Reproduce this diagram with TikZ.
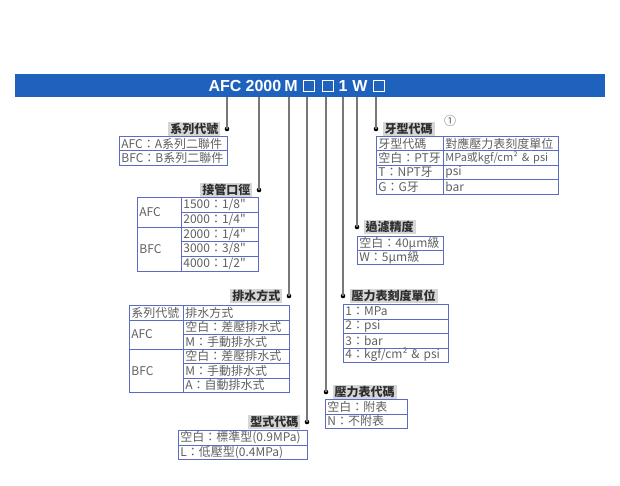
\documentclass[tikz,border=0pt]{standalone}
\usepackage{fontspec}
\setmainfont{Liberation Sans}
\newfontfamily\cjk{Noto Sans CJK TC}
\usetikzlibrary{positioning}
\definecolor{barblue}{RGB}{30,98,190}
\definecolor{tblue}{RGB}{90,108,196}
\definecolor{txtgray}{RGB}{95,95,95}
\definecolor{headgray}{RGB}{214,214,214}
\definecolor{headtext}{RGB}{45,45,45}
\definecolor{leadgray}{RGB}{120,120,120}
\tikzset{
  cell/.style={draw=tblue, line width=0.8pt, anchor=north west, text width=#1, align=left,
    minimum height=14.5pt, inner xsep=2pt, inner ysep=0pt, text=txtgray,
    font=\cjk\fontsize{12}{12}\selectfont},
  heading/.style={fill=headgray, text=headtext, inner xsep=2pt, inner ysep=1pt,
    minimum height=13pt, font=\cjk\bfseries\fontsize{12}{13}\selectfont},
  bullet/.style={circle, fill=black, inner sep=0pt, minimum size=4.6pt},
  leadline/.style={draw=leadgray, line width=1.1pt},
  ttl/.style={text=white, inner sep=0pt, font=\bfseries\fontsize{16}{18}\selectfont},
  ttlbox/.style={draw=white, line width=0.8pt, minimum size=11pt, inner sep=0pt}
}
\begin{document}
\begin{tikzpicture}[x=1pt,y=-1pt]
\useasboundingbox (0,0) rectangle (620,486);
% title bar
\node[fill=barblue, minimum width=590pt, minimum height=23pt, inner sep=0pt, anchor=north west] (bar) at (15,74) {};
\node[ttl] (tAFC) at (225,86) {AFC};
\node[ttl] (tsize) at (263.5,86) {2000};
\node[ttl] (tdrain) at (291,86) {M};
\node[ttlbox] (tbox1) at (309,86) {};
\node[ttlbox] (tbox2) at (327.5,86) {};
\node[ttl] (tunit) at (343,86) {1};
\node[ttl] (tfilt) at (360,86) {W};
\node[ttlbox] (tbox3) at (379,86) {};
% bullets and leads
\node[bullet] (dSeries) at (227,129) {};
\node[bullet] (dPort) at (259,190) {};
\node[bullet] (dDrain) at (289,296) {};
\node[bullet] (dType) at (307,422) {};
\node[bullet] (dGauge) at (326,392) {};
\node[bullet] (dUnit) at (343,296) {};
\node[bullet] (dFilter) at (357,227) {};
\node[bullet] (dThread) at (376,129) {};
\foreach \d in {dSeries,dPort,dDrain,dType,dGauge,dUnit,dFilter,dThread}
  \draw[leadline] (bar.south -| \d) -- (\d.center);
\node[heading, left=4pt of dSeries] (hSeries) {系列代號};
\node[heading, left=4pt of dPort] (hPort) {接管口徑};
\node[heading, left=4pt of dDrain] (hDrain) {排水方式};
\node[heading, left=4pt of dType] (hType) {型式代碼};
\node[heading, right=4pt of dGauge] (hGauge) {壓力表代碼};
\node[heading, right=4pt of dUnit] (hUnit) {壓力表刻度單位};
\node[heading, right=4pt of dFilter] (hFilter) {過濾精度};
\node[heading, right=4pt of dThread] (hThread) {牙型代碼};
\node[text=txtgray, font=\cjk\fontsize{12}{12}\selectfont] (note) at (450,121) {①};
% series
\node[cell=104pt] (s1) at (119,136) {AFC：A系列二聯件};
\node[cell=104pt] (s2) at (119,150.5) {BFC：B系列二聯件};
% port size
\node[cell=40pt, minimum height=29.6pt] (pA) at (137,197) {AFC};
\node[cell=40pt, minimum height=44.4pt] (pB) at (137,226.6) {BFC};
\foreach \t [count=\i from 0] in {1500：1/8",2000：1/4",2000：1/4",3000：3/8",4000：1/2"}
  \node[cell=73pt, minimum height=14.8pt] (p\i) at (181,197+14.8*\i) {\t};
% drain
\node[cell=50pt] (rh1) at (129,305) {系列代號};
\node[cell=102pt] (rh2) at (183,305) {排水方式};
\node[cell=50pt, minimum height=29pt] (rA) at (129,319.5) {AFC};
\node[cell=50pt, minimum height=43.5pt] (rB) at (129,348.5) {BFC};
\foreach \t [count=\i from 0] in {空白：差壓排水式,M：手動排水式,空白：差壓排水式,M：手動排水式,A：自動排水式}
  \node[cell=102pt] (r\i) at (183,319.5+14.5*\i) {\t};
% type
\node[cell=125pt] (y1) at (178,430) {空白：標準型(0.9MPa)};
\node[cell=125pt] (y2) at (178,444.5) {L：低壓型(0.4MPa)};
% gauge
\node[cell=78pt] (g1) at (325,399) {空白：附表};
\node[cell=78pt] (g2) at (325,413.5) {N：不附表};
% gauge unit
\foreach \t [count=\i from 0] in {1：MPa,2：psi,3：bar,4：kgf/cm² \& psi}
  \node[cell=101pt] (u\i) at (343,304+14.5*\i) {\t};
% filter
\node[cell=82pt, minimum height=14pt] (f1) at (357,236) {空白：40μm級};
\node[cell=82pt, minimum height=14pt] (f2) at (357,250) {W：5μm級};
% thread
\foreach \a/\b [count=\i from 0] in {牙型代碼/對應壓力表刻度單位,空白：PT牙/{\mbox{\fontsize{11}{12}\selectfont MPa或kgf/cm² \& psi}},T：NPT牙/psi,G：G牙/bar}{
  \node[cell=63pt] (ta\i) at (376,136+14.5*\i) {\a};
  \node[cell=111pt] (tb\i) at (443,136+14.5*\i) {\b};
}
\end{tikzpicture}
\end{document}
